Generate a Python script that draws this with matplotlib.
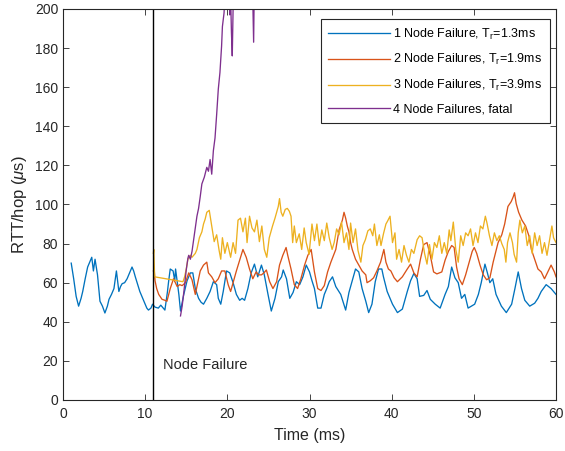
import matplotlib
matplotlib.use('Agg')
import matplotlib.pyplot as plt

plt.rcParams['font.family'] = ['Liberation Sans', 'DejaVu Sans']
plt.rcParams['mathtext.fontset'] = 'custom'
plt.rcParams['mathtext.rm'] = 'Liberation Sans'
plt.rcParams['mathtext.it'] = 'Liberation Sans:italic'

# 1 Node Failure
t1 = [1.0, 1.3, 1.6, 1.9, 2.2, 2.4, 2.7, 3.0, 3.3, 3.5, 3.7, 3.9, 4.2, 4.5, 4.8, 5.1, 5.4, 5.6, 5.9, 6.2,
      6.5, 6.8, 7.0, 7.2, 7.5, 7.8, 8.1, 8.4, 8.6, 8.8, 9.1, 9.35, 9.6, 9.9, 10.2, 10.4, 10.7, 10.9, 11.2,
      11.6, 11.9, 12.2, 12.4, 12.7, 12.85, 13.05, 13.4, 13.6, 13.7, 14.1, 14.3, 14.7, 15.1, 15.5, 15.8,
      16.1, 16.5, 16.8, 17.1, 17.5, 17.9, 18.3, 18.7, 18.9, 19.2, 19.5, 19.9, 20.3, 20.7, 21.1, 21.5, 21.8,
      22.1, 22.5, 22.9, 23.3, 23.7, 24.15, 24.5, 24.95, 25.35, 25.8, 26.2, 26.6, 26.8, 27.2, 27.6, 28.0,
      28.4, 28.8, 29.2, 29.6, 30.0, 30.3, 30.6, 31.0, 31.4, 31.8, 32.1, 32.4, 32.8, 33.2, 33.8, 34.1, 34.4,
      34.8, 35.2, 35.6, 36.0, 36.4, 36.85, 37.2, 37.6, 38.0, 38.4, 38.8, 39.0, 39.45, 39.8, 40.1, 40.7,
      41.3, 41.9, 42.3, 42.7, 43.1, 43.4, 43.9, 44.3, 44.7, 45.3, 45.9, 46.5, 46.9, 47.3, 47.7, 48.1, 48.5,
      48.9, 49.3, 49.7, 50.1, 50.55, 50.9, 51.35, 51.65, 51.95, 52.3, 52.7, 53.35, 53.95, 54.6, 55.0, 55.4,
      55.8, 56.2, 56.8, 57.4, 57.8, 58.2, 58.8, 59.4, 60.0]
rtt1 = [70, 62, 53, 48, 52, 55.5, 62, 68, 71, 73, 66, 72, 64, 50.5, 48, 44.5, 48, 51.5, 54, 57,
        66, 55.5, 58, 59.5, 60, 62, 65, 68, 66, 63, 59, 55.5, 53, 50, 47, 46, 47, 49, 47.5,
        47, 48.5, 47, 46, 55, 60.5, 67, 66, 61, 67, 54, 45.5, 54, 61, 65, 65,
        57, 52, 50, 49, 52, 55.5, 60.5, 59, 52, 49, 55.5, 66, 65, 60, 54, 51, 52,
        51, 57, 65, 69.5, 63, 69, 64, 54, 45.5, 52, 60.5, 63, 66.5, 62, 52, 55,
        60.5, 59, 63, 69, 65.5, 61, 57, 47, 47, 54, 57, 60.5, 63, 58, 54, 50, 46,
        55, 61, 67, 65.5, 57, 50.5, 44.7, 49, 60.5, 67, 67, 63, 55.5, 52, 49, 44.7,
        46.5, 55.5, 61, 64.7, 62, 53, 53.5, 56, 51.5, 49, 47, 54, 58, 68, 62.5, 60, 52,
        54, 47, 48, 49, 54, 60, 69.5, 65, 60, 62, 54, 48, 44.7, 49, 57, 65.5,
        57, 51, 48, 49.5, 52, 55.5, 59, 57, 54]

# 2 Node Failures
t2 = [11.0, 11.1, 11.2, 11.4, 11.65, 12.05, 12.4, 12.65, 13.05, 13.45, 13.9, 14.2, 14.5, 14.9, 15.3, 15.7,
      16.1, 16.3, 16.7, 17.1, 17.5, 17.7, 18.1, 18.5, 18.9, 19.3, 19.7, 20.1, 20.4, 20.7, 21.1, 21.5, 21.9,
      22.3, 22.7, 23.1, 23.5, 23.8, 24.15, 24.45, 24.75, 25.15, 25.55, 26.0, 26.35, 26.75, 27.15, 27.35,
      27.75, 28.15, 28.55, 28.95, 29.4, 29.8, 30.2, 30.6, 31.0, 31.4, 31.8, 32.2, 32.6, 33.2, 33.6, 34.0,
      34.2, 34.4, 34.6, 34.8, 35.0, 35.2, 35.6, 36.0, 36.4, 36.85, 37.0, 37.4, 37.8, 38.2, 38.65, 39.05,
      39.3, 39.6, 39.9, 40.3, 40.7, 41.3, 41.9, 42.3, 42.7, 43.1, 43.5, 43.9, 44.3, 44.7, 45.1, 45.5, 46.1,
      46.5, 46.9, 47.3, 47.6, 47.9, 48.2, 48.6, 49.0, 49.4, 49.8, 50.05, 50.35, 50.75, 51.15, 51.55, 51.95,
      52.35, 52.95, 53.4, 53.75, 54.15, 54.55, 54.8, 54.95, 55.15, 55.45, 55.85, 56.3, 56.7, 57.0, 57.4,
      57.8, 58.2, 58.6, 59.0, 59.4, 59.8, 60.0]
rtt2 = [66, 66.5, 61, 57, 54, 51.5, 51, 50.5, 57, 62, 58, 59, 58.5, 60, 65, 61.5,
        54, 58, 66, 69, 70.5, 65, 63, 60, 62, 66, 66, 59, 55.5, 60, 66, 71.5, 77,
        73, 67, 62, 65.5, 64, 64, 65, 66.5, 60.5, 57, 60.5, 69, 74, 78, 74,
        67, 59, 57, 62, 69, 74, 77, 65.5, 57, 56, 58.5, 65.5, 70.5, 77, 87, 92,
        96, 93, 89, 86, 80.5, 77, 72, 69, 66, 64, 60, 61, 62.5, 66, 70.5, 77,
        70.5, 67, 66, 62.5, 60.5, 63, 67, 69.5, 65, 63, 72, 79.5, 80.5, 74, 65.5, 64.5, 65.5,
        71.5, 76, 79, 78, 68, 62, 59, 64, 70, 76, 78, 75, 69, 64, 61.5, 62.5,
        70.5, 80.5, 84.5, 90, 99, 101.5, 104, 106, 100.5, 96, 92, 89, 84, 77, 72,
        67, 65.5, 62, 65.5, 69, 65.5, 63]

# 3 Node Failures
t3 = [11.0, 11.05, 11.15, 14.6, 14.8, 15.0, 15.2, 15.5, 15.7, 16.1, 16.3, 16.6, 16.9, 17.1, 17.3, 17.5,
      17.8, 18.1, 18.4, 18.7, 19.0, 19.2, 19.4, 19.7, 20.0, 20.4, 20.7, 21.0, 21.3, 21.6, 21.9, 22.2, 22.4,
      22.7, 23.0, 23.3, 23.6, 23.9, 24.2, 24.5, 24.8, 25.1, 25.5, 25.8, 26.2, 26.35, 26.55, 26.75, 27.05,
      27.3, 27.55, 27.75, 27.95, 28.15, 28.4, 28.75, 29.05, 29.35, 29.6, 29.95, 30.3, 30.6, 30.9, 31.2,
      31.5, 31.8, 32.1, 32.4, 32.75, 33.0, 33.3, 33.6, 33.9, 34.2, 34.5, 34.8, 35.0, 35.3, 35.6, 35.9,
      36.25, 36.5, 36.8, 37.1, 37.4, 37.7, 37.9, 38.2, 38.5, 38.7, 39.0, 39.3, 39.5, 39.8, 40.1, 40.4,
      40.6, 40.9, 41.2, 41.5, 41.8, 42.1, 42.4, 42.7, 43.1, 43.4, 43.7, 44.0, 44.3, 44.6, 44.9, 45.2,
      45.5, 45.8, 46.1, 46.4, 46.7, 47.0, 47.2, 47.5, 47.8, 48.1, 48.4, 48.7, 49.0, 49.3, 49.6, 49.9,
      50.2, 50.5, 50.8, 51.1, 51.4, 51.6, 51.9, 52.2, 52.5, 52.8, 53.1, 53.4, 53.7, 53.9, 54.1, 54.4,
      54.7, 54.9, 55.2, 55.4, 55.6, 55.9, 56.2, 56.5, 56.8, 57.1, 57.4, 57.7, 58.0, 58.3, 58.6, 58.9,
      59.2, 59.5, 59.7, 60.0]
rtt3 = [75, 77, 63, 60.5, 63, 67, 72, 74, 73, 75, 77, 83, 86, 90, 92.5, 96,
        97, 89, 81, 84.5, 76.5, 72, 83, 75, 80.5, 73, 80.5, 75, 92, 93, 86, 93, 80.5,
        94, 88, 86, 92, 81, 89, 77, 73, 83, 89, 93, 99, 103, 96, 94, 97.5,
        98, 96.5, 94, 80.5, 89, 80.5, 85, 77, 88, 80.5, 74.5, 90, 81.5, 90, 79,
        87, 81.5, 90.5, 83, 77, 80.5, 87.5, 84.5, 91, 80.5, 85.5, 77, 90.5, 80.5, 87.5, 76.5,
        70.5, 79, 82, 86.5, 87.5, 84, 90, 79, 84.5, 79, 85, 90, 91.5, 94, 80.5, 85.5,
        72, 77, 70.5, 79, 74, 70.5, 77, 75, 82, 84, 83, 75, 69.5, 79.5, 72, 80.5,
        78, 84, 75, 80.5, 75, 87, 81.5, 91, 77, 70.5, 84, 79, 85.5, 84, 87.5, 79,
        85.5, 80.5, 89, 87.5, 94, 90.5, 84, 79, 85.5, 81.5, 84, 80, 77, 70.5, 80.5, 85.5,
        80.5, 74.5, 70.5, 85.5, 92, 85.5, 89, 79, 84, 75, 85.5, 79, 84, 75, 80.5, 74,
        81.5, 89, 83, 80.5]

# 4 Node Failures (goes off scale)
t4 = [14.3, 14.5, 14.7, 15.0, 15.2, 15.3, 15.5, 15.7, 15.9, 16.1, 16.3, 16.5, 16.7, 16.9, 17.2, 17.5,
      17.7, 17.9, 18.1, 18.3, 18.5, 18.7, 18.9, 19.1, 19.3, 19.4, 19.6, 19.8, 20.0, 20.2, 20.3, 20.4,
      20.5, 20.6, 20.7, 20.9, 21.5, 22.5, 23.0, 23.2, 23.3, 24.0]
rtt4 = [43, 48, 55, 66.5, 72.5, 74, 72, 76, 82, 88, 94, 98, 104, 110.5, 114, 119,
        117, 123, 115.5, 127.5, 134, 146, 159, 167.5, 181, 191, 198, 215, 230, 212, 197, 206,
        188, 176, 200, 230, 255, 250, 225, 183, 220, 260]

labels = ['1 Node Failure, T$_\\mathrm{r}$=1.3ms',
          '2 Node Failures, T$_\\mathrm{r}$=1.9ms',
          '3 Node Failures, T$_\\mathrm{r}$=3.9ms',
          '4 Node Failures, fatal']
colores = ['#0072BD', '#D95319', '#EDB120', '#7E2F8E']
t_fallo = 11

fig = plt.figure(figsize=(5.65, 4.51), dpi=100)
# ejes: izquierda 63 px, derecha 556 px, arriba 9 px, abajo 400 px
ax = fig.add_axes([0.1115, 0.1131, 0.8726, 0.867])

for t, v, lab, c in zip([t1, t2, t3, t4], [rtt1, rtt2, rtt3, rtt4], labels, colores):
    ax.plot(t, v, color=c, linewidth=0.95, label=lab)

ax.axvline(t_fallo, color='black', linewidth=1.0)
ax.text(t_fallo + 1.2, 18, 'Node Failure', fontsize=10.5, color='#262626', va='center')

ax.set_xlim(0, 60)
ax.set_ylim(0, 200)
ax.set_xticks(range(0, 61, 10))
ax.set_yticks(range(0, 201, 20))
ax.set_xlabel('Time (ms)', fontsize=11.5, color='#262626', labelpad=5)
ax.set_ylabel('RTT/hop ($\\mu$s)', fontsize=12, color='#262626', labelpad=4)
ax.tick_params(direction='in', length=4, top=True, right=True, labelsize=10,
               colors='#262626', width=0.6)
ax.tick_params(axis='x', pad=5)
for s in ax.spines.values():
    s.set_color('#262626')
    s.set_linewidth(0.8)

leg = ax.legend(loc='upper right', fontsize=9, handlelength=4.9, frameon=True, fancybox=False,
                framealpha=1, edgecolor='#262626', borderpad=0.6, labelspacing=0.85,
                handletextpad=0.3, borderaxespad=0, bbox_to_anchor=(0.988, 0.974))
leg.get_frame().set_linewidth(0.8)

plt.savefig('out.png', dpi=100)
